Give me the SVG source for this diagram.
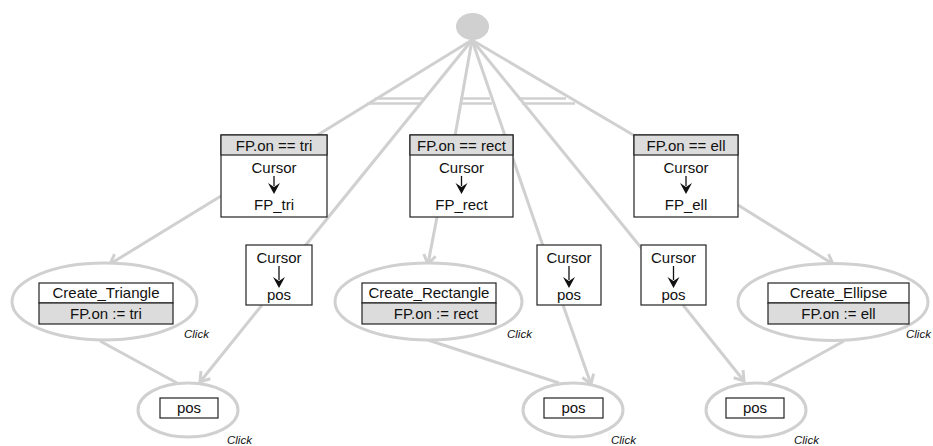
<svg xmlns="http://www.w3.org/2000/svg" width="933" height="446" viewBox="0 0 933 446">
<style>
.c{stroke:#d0d0d0;stroke-width:3;fill:none}
.b{stroke:#d0d0d0;stroke-width:2.5;fill:none}
.el{stroke:#d0d0d0;stroke-width:3;fill:#fff}
.box{stroke:#222;stroke-width:1.2;fill:#fff}
.hd{stroke:#222;stroke-width:1.2;fill:#dcdcdc}
text{font-family:"Liberation Sans",Arial,sans-serif;font-size:15px;fill:#111;text-anchor:middle}
.ck{font-size:11.5px;font-style:italic;text-anchor:start}
.ar{stroke:#111;stroke-width:1.3;fill:none}
.ah{fill:#111;stroke:none}
</style>
<defs>
<marker id="g" viewBox="-11 -8 13 16" markerWidth="13" markerHeight="16" refX="0" refY="0" orient="auto" markerUnits="userSpaceOnUse">
<path d="M-9,-6 L0,0 L-9,6" stroke="#d0d0d0" stroke-width="3" fill="none" stroke-linejoin="miter"/>
</marker>
</defs>
<g id="connectors">
<line class="c" x1="472" y1="40" x2="316" y2="136"/>
<line class="c" x1="472" y1="40" x2="305" y2="246"/>
<line class="c" x1="472" y1="40" x2="455" y2="136"/>
<line class="c" x1="472" y1="40" x2="543" y2="246"/>
<line class="c" x1="472" y1="40" x2="635" y2="136"/>
<line class="c" x1="472" y1="40" x2="643" y2="250"/>
<line class="b" x1="375" y1="98.5" x2="424" y2="98.5"/>
<line class="b" x1="367" y1="103.5" x2="421" y2="103.5"/>
<line class="b" x1="460" y1="98.5" x2="490" y2="98.5"/>
<line class="b" x1="460" y1="103.5" x2="492" y2="103.5"/>
<line class="b" x1="518" y1="98.5" x2="566" y2="98.5"/>
<line class="b" x1="522" y1="103.5" x2="575" y2="103.5"/>
<line class="c" x1="221" y1="196" x2="110" y2="264" marker-end="url(#g)"/>
<line class="c" x1="437" y1="217" x2="428" y2="264" marker-end="url(#g)"/>
<line class="c" x1="738" y1="205" x2="833" y2="264" marker-end="url(#g)"/>
<line class="c" x1="262" y1="305" x2="200" y2="382" marker-end="url(#g)"/>
<line class="c" x1="563" y1="305" x2="591" y2="384" marker-end="url(#g)"/>
<line class="c" x1="683" y1="305" x2="744" y2="381" marker-end="url(#g)"/>
<line class="c" x1="100" y1="341" x2="177" y2="383"/>
<line class="c" x1="428" y1="340" x2="559" y2="383"/>
<line class="c" x1="844" y1="341" x2="768" y2="383"/>
</g>
<g id="start">
<ellipse cx="472.5" cy="26.5" rx="16.5" ry="13.5" fill="#d0d0d0"/>
</g>
<g id="cond_tri">
<rect class="box" x="221" y="135" width="106" height="82"/>
<rect class="hd" x="221" y="135" width="106" height="20"/>
<text x="274" y="151">FP.on == tri</text>
<text x="274" y="173">Cursor</text>
<line class="ar" x1="274" y1="176" x2="274" y2="186"/>
<path class="ah" d="M268,183 L274,194 L280,183 L274,187 Z"/>
<text x="274" y="210">FP_tri</text>
</g>
<g id="cond_rect">
<rect class="box" x="410" y="135" width="103" height="82"/>
<rect class="hd" x="410" y="135" width="103" height="20"/>
<text x="461.5" y="151">FP.on == rect</text>
<text x="461.5" y="173">Cursor</text>
<line class="ar" x1="461.5" y1="176" x2="461.5" y2="186"/>
<path class="ah" d="M455.5,183 L461.5,194 L467.5,183 L461.5,187 Z"/>
<text x="461.5" y="210">FP_rect</text>
</g>
<g id="cond_ell">
<rect class="box" x="634" y="135" width="104" height="82"/>
<rect class="hd" x="634" y="135" width="104" height="20"/>
<text x="686" y="151">FP.on == ell</text>
<text x="686" y="173">Cursor</text>
<line class="ar" x1="686" y1="176" x2="686" y2="186"/>
<path class="ah" d="M680,183 L686,194 L692,183 L686,187 Z"/>
<text x="686" y="210">FP_ell</text>
</g>
<g id="cur_pos_1">
<rect class="box" x="246" y="245" width="66" height="60"/>
<text x="279" y="263">Cursor</text>
<line class="ar" x1="279" y1="266" x2="279" y2="280"/>
<path class="ah" d="M273,277 L279,288 L285,277 L279,281 Z"/>
<text x="279" y="300">pos</text>
</g>
<g id="cur_pos_2">
<rect class="box" x="537" y="245" width="64" height="60"/>
<text x="569" y="263">Cursor</text>
<line class="ar" x1="569" y1="266" x2="569" y2="280"/>
<path class="ah" d="M563,277 L569,288 L575,277 L569,281 Z"/>
<text x="569" y="300">pos</text>
</g>
<g id="cur_pos_3">
<rect class="box" x="641" y="245" width="65" height="60"/>
<text x="673.5" y="263">Cursor</text>
<line class="ar" x1="673.5" y1="266" x2="673.5" y2="280"/>
<path class="ah" d="M667.5,277 L673.5,288 L679.5,277 L673.5,281 Z"/>
<text x="673.5" y="300">pos</text>
</g>
<g id="create_tri">
<ellipse class="el" cx="104.5" cy="301.5" rx="92.5" ry="38.5"/>
<rect class="box" x="39" y="283" width="134" height="20"/>
<rect class="hd" x="39" y="303" width="134" height="21"/>
<text x="106" y="298">Create_Triangle</text>
<text x="106" y="319">FP.on := tri</text>
<text class="ck" x="184" y="338">Click</text>
</g>
<g id="create_rect">
<ellipse class="el" cx="428.5" cy="301.5" rx="93.5" ry="38.5"/>
<rect class="box" x="362" y="283" width="134" height="20"/>
<rect class="hd" x="362" y="303" width="134" height="21"/>
<text x="429" y="298">Create_Rectangle</text>
<text x="436" y="319">FP.on := rect</text>
<text class="ck" x="507" y="338">Click</text>
</g>
<g id="create_ell">
<ellipse class="el" cx="833" cy="302" rx="95" ry="38.5"/>
<rect class="box" x="768" y="283" width="141" height="20"/>
<rect class="hd" x="768" y="303" width="141" height="21"/>
<text x="838.5" y="298">Create_Ellipse</text>
<text x="838.5" y="319">FP.on := ell</text>
<text class="ck" x="906" y="338">Click</text>
</g>
<g id="pos_1">
<ellipse class="el" cx="188" cy="410" rx="50" ry="27"/>
<rect class="box" x="160" y="398" width="58" height="20"/>
<text x="189" y="413">pos</text>
<text class="ck" x="227" y="444">Click</text>
</g>
<g id="pos_2">
<ellipse class="el" cx="573" cy="410" rx="50" ry="27"/>
<rect class="box" x="544" y="398" width="59" height="20"/>
<text x="573.5" y="413">pos</text>
<text class="ck" x="611" y="444">Click</text>
</g>
<g id="pos_3">
<ellipse class="el" cx="756" cy="410" rx="50" ry="27"/>
<rect class="box" x="726" y="398" width="58" height="20"/>
<text x="755" y="413">pos</text>
<text class="ck" x="794" y="444">Click</text>
</g>
</svg>
